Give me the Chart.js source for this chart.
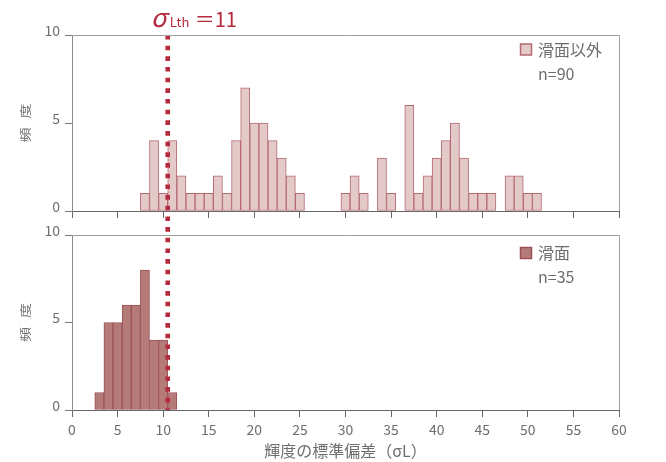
<!DOCTYPE html>
<html>
<head>
<meta charset="utf-8">
<script src="https://cdn.jsdelivr.net/npm/chart.js@4.4.1/dist/chart.umd.min.js"></script>
<style>
  html, body { margin: 0; padding: 0; background: #ffffff; }
  #wrap { position: relative; width: 666px; height: 462px; overflow: hidden; }
  #wrap canvas { position: absolute; left: 0; }
  #cTop { top: 0; }
  #cBottom { top: 222px; }
</style>
</head>
<body>
<div id="wrap">
  <canvas id="cTop" width="666" height="222"></canvas>
  <canvas id="cBottom" width="666" height="240"></canvas>
</div>
<script>
// Frequency of luminance standard deviation σL, bin width 1 (bins centred on integers)
const OTHER_BINS   = [8, 9, 10, 11, 12, 13, 14, 15, 16, 17, 18, 19, 20, 21, 22, 23, 24, 25,
                      30, 31, 32, 34, 35, 37, 38, 39, 40, 41, 42, 43, 44, 45, 46, 48, 49, 50, 51];
const OTHER_COUNTS = [1, 4, 1, 4, 2, 1, 1, 1, 2, 1, 4, 7, 5, 5, 4, 3, 2, 1,
                      1, 2, 1, 3, 1, 6, 1, 2, 3, 4, 5, 3, 1, 1, 1, 2, 2, 1, 1];
const SLIP_BINS    = [3, 4, 5, 6, 7, 8, 9, 10, 11];
const SLIP_COUNTS  = [1, 5, 5, 6, 6, 8, 4, 4, 1];

const X_MIN = 0, X_MAX = 60, X_STEP = 5;
const Y_MIN = 0, Y_MAX = 10, Y_STEP = 5;
const BIN_WIDTH = 1;
const THRESHOLD = 11;          // σLth

const LEGEND_OTHER = ['滑面以外', 'n=90'];
const LEGEND_SLIP  = ['滑面', 'n=35'];
const Y_TITLE = ['頻', '度'];
const X_TITLE = '輝度の標準偏差（σL）';

const FONT = "'Noto Sans CJK JP', 'Noto Sans', sans-serif";
const TEXT_GREY = '#6e6e6e';
const RED = '#b52a3c';
const OTHER_FILL = '#e3cac9', OTHER_EDGE = '#b56a72';
const SLIP_FILL = '#b57b79', SLIP_EDGE = '#9c505a';

const TOP_OFFSET = 222;        // page y of the lower canvas
const LINE_START = 35;         // page y where the threshold line starts
const LINE_END = 410;          // page y where it ends

function toPoints(bins, counts) {
  return bins.map((b, i) => ({ x: b, y: counts[i] }));
}

// Draws frame, threshold line, y tick labels, y title and the legend of one panel
const panelDecor = {
  id: 'panelDecor',
  afterDatasetsDraw(chart, args, opts) {
    const { ctx } = chart;
    const xs = chart.scales.x;
    // threshold drawn at the lower edge of its bin
    const lineX = xs.getPixelForValue(THRESHOLD - BIN_WIDTH / 2);
    ctx.save();
    ctx.strokeStyle = RED;
    ctx.lineWidth = 4.6;
    ctx.setLineDash([4.6, 6.07]);
    ctx.beginPath();
    ctx.moveTo(lineX, LINE_START - opts.pageTop);
    ctx.lineTo(lineX, Math.min(LINE_END - opts.pageTop, chart.height));
    ctx.stroke();
    ctx.restore();
  },
  afterDraw(chart, args, opts) {
    const { ctx, chartArea } = chart;
    const ys = chart.scales.y;
    ctx.save();
    // top and right edges of the plot frame
    ctx.strokeStyle = '#a0a0a0';
    ctx.lineWidth = 1;
    ctx.beginPath();
    ctx.moveTo(chartArea.left, Math.round(chartArea.top) + 0.5);
    ctx.lineTo(Math.round(chartArea.right) + 0.5, Math.round(chartArea.top) + 0.5);
    ctx.lineTo(Math.round(chartArea.right) + 0.5, chartArea.bottom);
    ctx.stroke();

    // y tick labels
    ctx.fillStyle = TEXT_GREY;
    ctx.font = '14px ' + FONT;
    ctx.textAlign = 'right';
    ctx.textBaseline = 'middle';
    ys.ticks.forEach(t => {
      ctx.fillText(String(t.value), 60, ys.getPixelForValue(t.value) - 4.5);
    });

    // y axis title, rotated and condensed
    const midY = (chartArea.top + chartArea.bottom) / 2;
    ctx.font = '15px ' + FONT;
    ctx.textAlign = 'center';
    Y_TITLE.forEach((ch, i) => {
      ctx.save();
      ctx.translate(26, midY + 12 - i * 24);
      ctx.rotate(-Math.PI / 2);
      ctx.scale(1, 0.75);
      ctx.fillText(ch, 0, 0);
      ctx.restore();
    });

    // legend
    const lg = opts.legend;
    const bx = 520.5, by = lg.boxY - opts.pageTop;
    ctx.fillStyle = lg.fill;
    ctx.fillRect(bx, by, 11, 11);
    ctx.strokeStyle = lg.edge;
    ctx.lineWidth = 1.5;
    ctx.strokeRect(bx, by, 11, 11);
    ctx.fillStyle = TEXT_GREY;
    ctx.font = '16px ' + FONT;
    ctx.textAlign = 'left';
    ctx.textBaseline = 'middle';
    ctx.fillText(lg.lines[0], 538, by + 5.5);
    ctx.fillText(lg.lines[1], 538, by + 29.5);

    // threshold label
    if (opts.thresholdLabel) {
      const lineX = chart.scales.x.getPixelForValue(THRESHOLD - BIN_WIDTH / 2);
      ctx.fillStyle = RED;
      ctx.textBaseline = 'alphabetic';
      ctx.font = 'italic 26px ' + FONT;
      ctx.fillText('σ', lineX - 17, 26.5);
      ctx.font = '13px ' + FONT;
      ctx.fillText('Lth', lineX + 2, 26.5);
      ctx.font = '20px ' + FONT;
      ctx.fillText('＝' + THRESHOLD, lineX + 27, 26.5);
    }
    ctx.restore();
  }
};

function panel(canvasId, bins, counts, fill, edge, showX, pageTop, legend, thresholdLabel) {
  const xTitle = showX
    ? { display: true, text: X_TITLE, color: TEXT_GREY, font: { family: FONT, size: 16 }, padding: { top: 0, bottom: 1 } }
    : { display: false };
  return new Chart(document.getElementById(canvasId), {
    type: 'bar',
    data: {
      datasets: [{
        data: toPoints(bins, counts),
        backgroundColor: fill,
        borderColor: edge,
        borderWidth: 1,
        borderSkipped: false,
        barPercentage: 1,
        categoryPercentage: 1
      }]
    },
    options: {
      responsive: false,
      animation: false,
      devicePixelRatio: 1,
      layout: { padding: { left: 0, right: 47, top: showX ? 13 : 35, bottom: 0 } },
      plugins: {
        legend: { display: false },
        tooltip: { enabled: false },
        panelDecor: { pageTop, legend, thresholdLabel }
      },
      scales: {
        x: {
          type: 'linear',
          min: X_MIN, max: X_MAX,
          offset: false,
          grid: { display: true, drawOnChartArea: false, drawTicks: true, tickLength: 7, color: '#666', offset: false },
          border: { display: true, color: '#666', width: 1 },
          ticks: {
            display: showX, stepSize: X_STEP, autoSkip: false, maxRotation: 0,
            color: TEXT_GREY, font: { family: FONT, size: 14 }, padding: 4
          },
          title: xTitle,
          afterFit(s) { s.height = showX ? 52 : 11; }
        },
        y: {
          min: Y_MIN, max: Y_MAX,
          grid: { display: true, drawOnChartArea: false, drawTicks: true, tickLength: 7, color: '#777' },
          border: { display: true, color: '#8a8a8a', width: 1 },
          ticks: { display: false, stepSize: Y_STEP },
          afterFit(s) { s.width = 72; }
        }
      }
    },
    plugins: [panelDecor]
  });
}

panel('cTop', OTHER_BINS, OTHER_COUNTS, OTHER_FILL, OTHER_EDGE, false, 0,
      { lines: LEGEND_OTHER, fill: OTHER_FILL, edge: OTHER_EDGE, boxY: 44 }, true);
panel('cBottom', SLIP_BINS, SLIP_COUNTS, SLIP_FILL, SLIP_EDGE, true, TOP_OFFSET,
      { lines: LEGEND_SLIP, fill: SLIP_FILL, edge: SLIP_EDGE, boxY: 247.5 }, false);
</script>
</body>
</html>
